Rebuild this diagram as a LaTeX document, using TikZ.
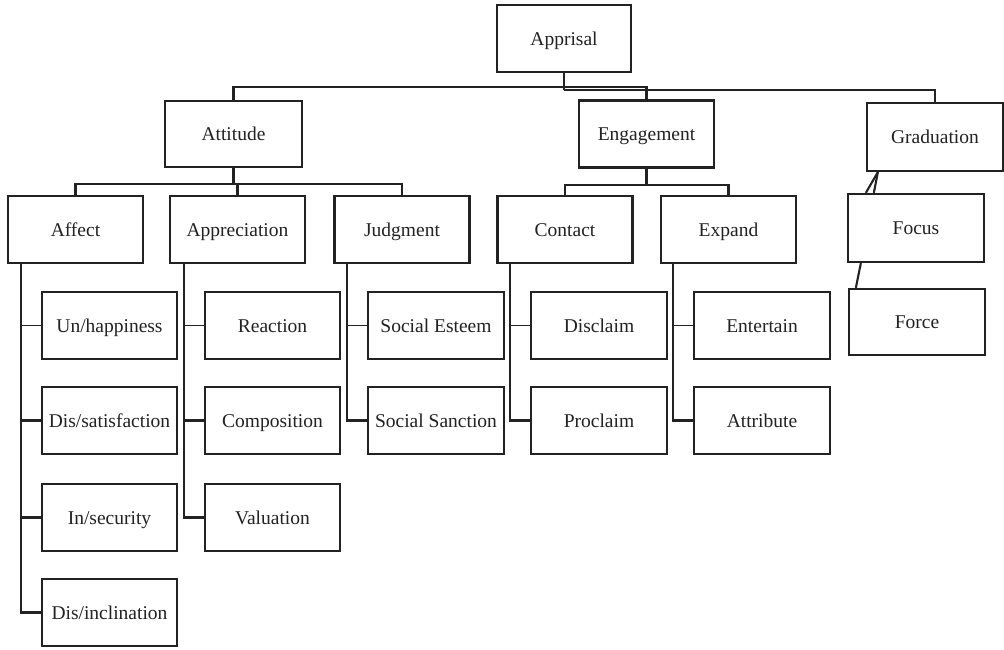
\documentclass[tikz,border=0pt]{standalone}
\usepackage{fontspec}
\setmainfont{Liberation Serif}
\definecolor{ink}{HTML}{222222}
\begin{document}
\begin{tikzpicture}[x=1pt,y=-1pt,
  box/.style={draw=ink,line width=2.3pt,fill=white,minimum width=135pt,minimum height=67pt,inner sep=0pt,
    font=\fontsize{19.5}{23}\selectfont,text=ink,text height=15pt,text depth=2pt},
  link/.style={draw=ink,line width=2.1pt},
  thin/.style={draw=ink,line width=1.4pt}]
\useasboundingbox (0,0) rectangle (1004,649);
% top level
\node[box,minimum width=134pt] (apprisal) at (564,38.5) {Apprisal};
\node[box,minimum width=137pt,minimum height=66pt] (attitude) at (233.5,134) {Attitude};
\node[box] (engagement) at (646.5,134) {Engagement};
\node[box,minimum width=136pt,minimum height=68pt] (graduation) at (935,137) {Graduation};
% second level
\node[box] (affect) at (75.5,229.5) {Affect};
\node[box] (appreciation) at (237.5,229.5) {Appreciation};
\node[box] (judgment) at (402,229.5) {Judgment};
\node[box] (contact) at (565,229.5) {Contact};
\node[box] (expand) at (728.5,229.5) {Expand};
\node[box,minimum width=136pt,minimum height=68pt] (focus) at (916,228) {Focus};
\node[box,minimum width=136pt,minimum height=66pt] (force) at (917,322) {Force};
% affect children
\node[box] (unhap) at (109.5,325.5) {Un/happiness};
\node[box] (dissat) at (109.5,420.5) {Dis/satisfaction};
\node[box] (insec) at (109.5,517.5) {In/security};
\node[box] (disinc) at (109.5,612.5) {Dis/inclination};
% appreciation children
\node[box] (reaction) at (272.5,325.5) {Reaction};
\node[box] (composition) at (272.5,420.5) {Composition};
\node[box] (valuation) at (272.5,517.5) {Valuation};
% judgment children
\node[box,minimum width=136pt] (esteem) at (436,325.5) {Social Esteem};
\node[box,minimum width=136pt] (sanction) at (436,420.5) {Social Sanction};
% contact children
\node[box,minimum width=136pt] (disclaim) at (599,325.5) {Disclaim};
\node[box,minimum width=136pt] (proclaim) at (599,420.5) {Proclaim};
% expand children
\node[box,minimum width=136pt] (entertain) at (762,325.5) {Entertain};
\node[box,minimum width=136pt] (attribute) at (762,420.5) {Attribute};
% top connectors
\coordinate (ap1) at ([yshift=-14pt]apprisal.south);
\coordinate (ap2) at ([yshift=-17pt]apprisal.south);
\draw[link] (apprisal.south) -- (ap2);
\draw[link] (ap1) -| (attitude.north);
\draw[link] (ap1) -| (engagement.north);
\draw[link] (ap2) -| (graduation.north);
% attitude connectors
\coordinate (at1) at ([yshift=-16pt]attitude.south);
\draw[link] (attitude.south) -- (at1);
\draw[link] (at1) -| (affect.north);
\draw[link] (at1) -| (appreciation.north);
\draw[link] (at1) -| (judgment.north);
% engagement connectors
\coordinate (en1) at ([yshift=-16pt]engagement.south);
\draw[link] (engagement.south) -- (en1);
\draw[link] (en1) -| (contact.north);
\draw[link] (en1) -| (expand.north);
% affect trunk
\coordinate (afT) at ([xshift=14pt]affect.south west);
\draw[link] (afT) |- (disinc.west);
\draw[thin] (afT) |- (unhap.west);
\draw[link] (afT) |- (dissat.west);
\draw[link] (afT) |- (insec.west);
% appreciation trunk
\coordinate (apT) at ([xshift=15pt]appreciation.south west);
\draw[link] (apT) |- (valuation.west);
\draw[thin] (apT) |- (reaction.west);
\draw[link] (apT) |- (composition.west);
% judgment trunk
\coordinate (juT) at ([xshift=14pt]judgment.south west);
\draw[link] (juT) |- (sanction.west);
\draw[thin] (juT) |- (esteem.west);
% contact trunk
\coordinate (coT) at ([xshift=14pt]contact.south west);
\draw[link] (coT) |- (proclaim.west);
\draw[thin] (coT) |- (disclaim.west);
% expand trunk
\coordinate (exT) at ([xshift=13pt]expand.south west);
\draw[link] (exT) |- (attribute.west);
\draw[thin] (exT) |- (entertain.west);
% graduation slanted connectors
\draw[link] ([xshift=12pt]graduation.south west) -- ([xshift=19pt]focus.north west);
\draw[link] ([xshift=12pt]graduation.south west) -- ([xshift=27pt]focus.north west);
\draw[link] ([xshift=14pt]focus.south west) -- ([xshift=8pt]force.north west);
\end{tikzpicture}
\end{document}
